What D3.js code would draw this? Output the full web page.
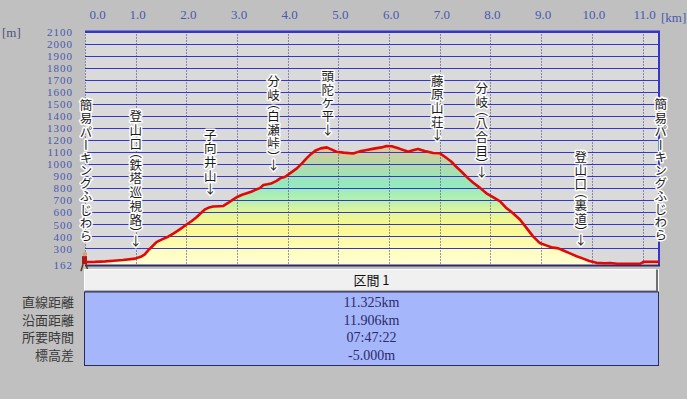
<!DOCTYPE html>
<html>
<head>
<meta charset="utf-8">
<script src="https://cdn.jsdelivr.net/npm/d3@7"></script>
<style>
  body { margin: 0; background: #c0c0c0; }
  svg { display: block; }
</style>
</head>
<body>
<div id="chart"></div>
<script>
// profile: distance along route [km] and elevation [m]
const distKm = [0.00, 0.20, 0.40, 0.56, 0.75, 0.99, 1.10, 1.18, 1.25, 1.33, 1.41, 1.52, 1.64, 1.75, 1.87,
  2.01, 2.10, 2.20, 2.30, 2.37, 2.45, 2.53, 2.65, 2.73, 2.83, 2.92, 2.99, 3.10, 3.19, 3.28, 3.35,
  3.45, 3.52, 3.60, 3.67, 3.78, 3.85, 3.95, 4.05, 4.18, 4.28, 4.37, 4.45, 4.54, 4.65, 4.77, 4.87,
  4.96, 5.10, 5.29, 5.42, 5.56, 5.70, 5.85, 5.95, 6.05, 6.20, 6.38, 6.47, 6.57, 6.70, 6.87, 7.00,
  7.10, 7.23, 7.33, 7.43, 7.55, 7.66, 7.80, 7.92, 8.05, 8.19, 8.30, 8.45, 8.58, 8.71, 8.84, 8.91,
  8.97, 9.10, 9.20, 9.34, 9.45, 9.57, 9.70, 9.83, 9.95, 10.09, 10.25, 10.36, 10.50, 10.68, 10.85,
  10.95, 11.02, 11.325];
const elevM = [186, 188, 192, 197, 203, 215, 230, 250, 285, 318, 352, 375, 397, 425, 458,
  500, 525, 558, 598, 624, 640, 648, 650, 652, 679, 705, 724, 745, 757, 770, 784,
  800, 826, 832, 838, 860, 881, 895, 925, 964, 1005, 1047, 1080, 1110, 1130, 1138, 1120,
  1102, 1095, 1088, 1105, 1116, 1128, 1138, 1150, 1148, 1128, 1102, 1115, 1125, 1108, 1092, 1090,
  1060, 1019, 975, 936, 885, 845, 800, 757, 725, 690, 640, 590, 540, 470, 400, 370,
  345, 325, 310, 300, 280, 258, 235, 215, 195, 180, 176, 178, 172, 172, 172,
  172, 188, 188];

// axes
const kmTicks = d3.range(0, 12);
const mTicks = d3.range(300, 2200, 100);
const mBase = 162;
const mTop = 2100;
const kmTotal = 11.325;

// named spots along the route
const spotNames = ["簡易パーキングふじわら", "登山口（鉄塔巡視路）↓", "子向井山↓", "分岐（白瀬峠）↓",
  "頭陀ケ平↓", "藤原山荘↓", "分岐（八合目）↓", "登山口（裏道）↓", "簡易パーキングふじわら"];
const spotKm = [0.02, 1.0, 2.47, 3.72, 4.79, 6.95, 7.83, 9.78, 11.36];

// summary table
const sectionTitle = "区間 1";
const rowLabels = ["直線距離", "沿面距離", "所要時間", "標高差"];
const rowValues = ["11.325km", "11.906km", "07:47:22", "-5.000m"];

const W = 687, H = 399;
const plotL = 85, plotR = 659, plotT = 31.5, plotB = 265;

const svg = d3.select("#chart").append("svg").attr("width", W).attr("height", H);

const x = d3.scaleLinear().domain([0, kmTotal]).range([plotL, plotR]);
const y = d3.scaleLinear().domain([mBase, mTop]).range([plotB, plotT]);

const blue = "#3636c8";
const labelBlue = "#4a58b0";
const serif = "'Liberation Serif', 'DejaVu Serif', serif";
const gothic = "'Noto Sans CJK JP', 'Noto Sans', sans-serif";

// plot background
svg.append("rect").attr("x", plotL).attr("y", plotT).attr("width", plotR - plotL).attr("height", plotB - plotT)
  .attr("fill", "#dadada");

// elevation gradient
const grad = svg.append("defs").append("linearGradient").attr("id", "elevFill")
  .attr("gradientUnits", "userSpaceOnUse")
  .attr("x1", 0).attr("x2", 0).attr("y1", y(mBase)).attr("y2", y(1150));
[[162, "#ffffd6"], [320, "#fffcb4"], [480, "#faf88e"], [600, "#e4f69a"], [700, "#b8f0ae"],
 [820, "#94eac2"], [920, "#a2e2b4"], [1020, "#bcd6a6"], [1150, "#e2c6a0"]]
  .forEach(([m, c]) => grad.append("stop").attr("offset", (m - mBase) / (1150 - mBase)).attr("stop-color", c));

const pts = distKm.map((d, i) => [d, elevM[i]]);

svg.append("path").datum(pts)
  .attr("fill", "url(#elevFill)")
  .attr("d", d3.area().x(d => x(d[0])).y0(y(mBase)).y1(d => y(d[1])));

// horizontal grid
svg.append("g").selectAll("line").data(mTicks).join("line")
  .attr("x1", plotL).attr("x2", plotR)
  .attr("y1", d => Math.round(y(d)) + 0.5).attr("y2", d => Math.round(y(d)) + 0.5)
  .attr("stroke", blue).attr("stroke-width", 1);

// vertical dotted grid
svg.append("g").selectAll("line").data(kmTicks).join("line")
  .attr("x1", d => Math.round(x(d)) + 0.5).attr("x2", d => Math.round(x(d)) + 0.5)
  .attr("y1", plotT).attr("y2", plotB)
  .attr("stroke", "#303080").attr("stroke-width", 1).attr("stroke-dasharray", "1,2");

// frame
svg.append("line").attr("x1", plotL).attr("x2", plotR + 1).attr("y1", plotT).attr("y2", plotT)
  .attr("stroke", blue).attr("stroke-width", 2);
svg.append("line").attr("x1", plotR).attr("x2", plotR).attr("y1", plotT).attr("y2", plotB)
  .attr("stroke", blue).attr("stroke-width", 2);
svg.append("line").attr("x1", plotL).attr("x2", plotR + 1).attr("y1", plotB + 0.5).attr("y2", plotB + 0.5)
  .attr("stroke", "#2a2a70").attr("stroke-width", 2);

// profile line
svg.append("path").datum(pts)
  .attr("fill", "none").attr("stroke", "#e00808").attr("stroke-width", 2.6)
  .attr("stroke-linejoin", "round")
  .attr("d", d3.line().x(d => x(d[0])).y(d => y(d[1])));

// top axis labels
const gx = svg.append("g").attr("transform", "translate(0,22)")
  .call(d3.axisTop(x).tickValues(kmTicks).tickFormat(d3.format(".1f")).tickSize(0));
gx.select(".domain").remove();
gx.selectAll("text").attr("fill", labelBlue).attr("font-family", serif).attr("font-size", 13)
  .attr("dy", 0).attr("dx", d => d === 0 ? 12 : 1.5);
svg.append("text").attr("x", 661).attr("y", 22).attr("fill", labelBlue)
  .attr("font-family", serif).attr("font-size", 13).text("[km]");

// left axis labels
const gy = svg.append("g").attr("transform", "translate(73,0)")
  .call(d3.axisLeft(y).tickValues([mBase].concat(mTicks)).tickFormat(d3.format("d")).tickSize(0));
gy.select(".domain").remove();
gy.selectAll("text").attr("fill", labelBlue).attr("font-family", serif).attr("font-size", 11)
  .attr("letter-spacing", 1).attr("x", 0).attr("dy", "0.34em");
svg.append("text").attr("x", 2).attr("y", 37).attr("fill", "#505080")
  .attr("font-family", serif).attr("font-size", 13).text("[m]");

// spot labels (vertical text, anchored above the profile)
const elevAt = km => {
  const i = d3.bisectLeft(distKm, km);
  if (i <= 0) return elevM[0];
  if (i >= distKm.length) return elevM[elevM.length - 1];
  const t = (km - distKm[i - 1]) / (distKm[i] - distKm[i - 1]);
  return elevM[i - 1] + t * (elevM[i] - elevM[i - 1]);
};
svg.append("g").selectAll("text").data(spotNames).join("text")
  .attr("x", (d, i) => x(spotKm[i]))
  .attr("y", (d, i) => y(elevAt(spotKm[i])) - (d.endsWith("↓") ? 10 : 19))
  .attr("text-anchor", "end")
  .style("writing-mode", "vertical-rl")
  .style("text-orientation", "upright")
  .style("font-feature-settings", "'vpal'")
  .attr("font-family", gothic).attr("font-size", 12.5).attr("letter-spacing", 1.2)
  .attr("fill", "#1a1a1a").attr("stroke", "#ffffff").attr("stroke-width", 3)
  .attr("stroke-linejoin", "round").attr("paint-order", "stroke")
  .text(d => d);

// hiker marker at the start
const hk = svg.append("g").attr("transform", `translate(${x(0)},${y(elevM[0])})`);
hk.append("path").attr("d", "M-2,2 L-4,9 M1,2 L3,9").attr("stroke", "#5a3a20").attr("stroke-width", 1.6);
hk.append("rect").attr("x", -3).attr("y", -6).attr("width", 5).attr("height", 8).attr("fill", "#b01818");
hk.append("circle").attr("cx", 0).attr("cy", -8).attr("r", 2.2).attr("fill", "#d8a070");

// summary table
const tLeft = 84.5, tRight = 658.5, hTop = 269.5, hBot = 292, tBot = 365.5;
const cx = (tLeft + tRight) / 2;
svg.append("rect").attr("x", tLeft).attr("y", hTop).attr("width", tRight - tLeft).attr("height", hBot - hTop)
  .attr("fill", "#f0f0f0").attr("stroke", "#ffffff");
svg.append("path").attr("d", `M${tLeft},${hBot - 0.5}H${tRight - 1.5}V${hTop}`)
  .attr("fill", "none").attr("stroke", "#707070").attr("stroke-width", 2);
svg.append("text").attr("x", cx).attr("y", 280.5).attr("dy", "0.35em").attr("text-anchor", "middle")
  .attr("font-family", gothic).attr("font-size", 13).attr("fill", "#111").text(sectionTitle);

svg.append("rect").attr("x", tLeft).attr("y", hBot).attr("width", tRight - tLeft).attr("height", tBot - hBot)
  .attr("fill", "#a6b6fa").attr("stroke", "#2c2c5a").attr("stroke-width", 1);

const rowY = d3.scalePoint().domain(rowLabels).range([302.5, 355]);
svg.append("g").selectAll("text").data(rowLabels).join("text")
  .attr("x", 74).attr("y", d => rowY(d)).attr("dy", "0.35em").attr("text-anchor", "end")
  .attr("font-family", gothic).attr("font-size", 13).attr("fill", "#3a3a3a").text(d => d);
svg.append("g").selectAll("text").data(rowValues).join("text")
  .attr("x", cx).attr("y", (d, i) => rowY(rowLabels[i])).attr("dy", "0.35em").attr("text-anchor", "middle")
  .attr("font-family", serif).attr("font-size", 14).attr("fill", "#2a2a6a").text(d => d);
</script>
</body>
</html>
